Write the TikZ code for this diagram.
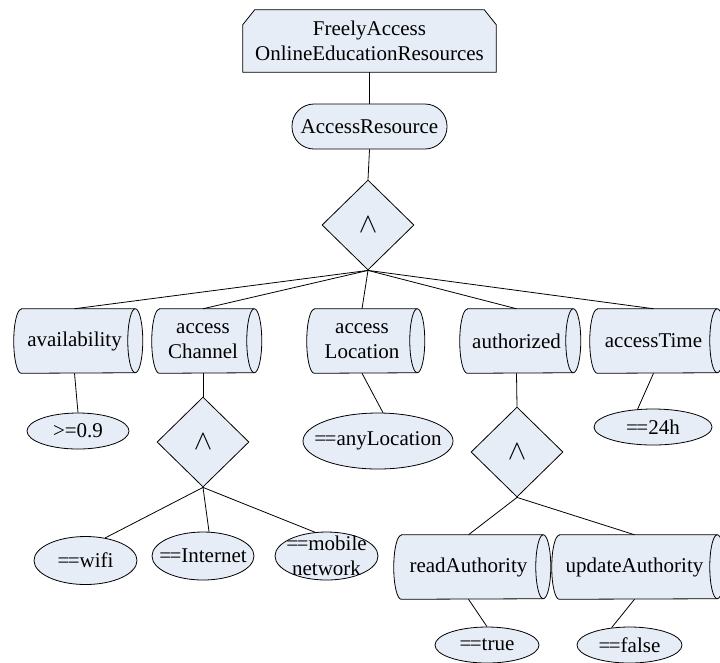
\documentclass[tikz,border=0pt]{standalone}
\usepackage{fontspec}
\setmainfont{Liberation Serif}
\usetikzlibrary{shapes.geometric,backgrounds}
\definecolor{bfill}{RGB}{231,237,247}
\newcommand\fs{\fontsize{15.75pt}{18.75pt}\selectfont}
\newcommand\eqq{=\kern-1.2pt=}
\newcommand\cylo[1]{%
  \draw[line width=0.6pt, fill=bfill] ([xshift=5.625pt]#1.north west) -- (#1.north east)
    arc[start angle=90, end angle=-90, x radius=5.625pt, y radius=24pt]
    -- ([xshift=5.625pt]#1.south west)
    arc[start angle=270, end angle=90, x radius=5.625pt, y radius=24pt] -- cycle;
  \draw[line width=0.6pt] (#1.north east)
    arc[start angle=90, end angle=270, x radius=5.625pt, y radius=24pt];}
\tikzset{
  base/.style={draw=black, fill=bfill, line width=0.6pt, font=\fs, align=center, inner sep=0pt},
  ell/.style={base, ellipse},
  dia/.style={base, diamond, minimum width=69pt, minimum height=67.5pt, font=\fontsize{21pt}{21pt}\selectfont},
  cylbox/.style={inner sep=0pt, align=center, font=\fs, minimum height=48pt},
  lab/.style={font=\fs, align=center, inner sep=0pt},
  conn/.style={line width=0.6pt},
}
\begin{document}
\begin{tikzpicture}[x=0.75pt, y=-0.75pt]
\useasboundingbox (0,0) rectangle (720,662);
\clip (0,0) rectangle (720,662);
% top
\node[inner sep=0pt, align=center, font=\fs, minimum width=189.75pt, minimum height=46.5pt] (top) at (369.5,41) {FreelyAccess\\OnlineEducationResources};
\node[base, rounded corners=16.5pt, minimum width=116.25pt, minimum height=33.75pt] (ar) at (369.5,126.5) {AccessResource};
\node[dia] (d1) at (368,225) {$\wedge$};
% row 1 cylinders
\node[cylbox, minimum width=90.75pt] (avail) at (74.5,341) {availability};
\node[cylbox, minimum width=76.5pt] (chan) at (203,341) {access\\Channel};
\node[cylbox, minimum width=82.5pt] (loc) at (362,341) {access\\Location};
\node[cylbox, minimum width=84.75pt] (auth) at (516.5,341) {authorized};
\node[cylbox, minimum width=95.25pt] (time) at (653.5,341) {accessTime};
% row 2 cylinders
\node[cylbox, minimum width=111.75pt] (read) at (468.5,567) {readAuthority};
\node[cylbox, minimum width=123.75pt] (upd) at (634.5,567) {updateAuthority};
% diamonds
\node[dia] (d2) at (203,442) {$\wedge$};
\node[dia] (d3) at (517,452) {$\wedge$};
% ellipses
\node[ell, minimum width=76.5pt, minimum height=27pt, label={[lab]center:{>=0.9}}] (ge) at (78,431) {};
\node[ell, minimum width=112.5pt, minimum height=42pt, label={[lab]center:{\eqq anyLocation}}] (anyloc) at (378,441) {};
\node[ell, minimum width=88.5pt, minimum height=27pt, label={[lab]center:{\eqq 24h}}] (h24) at (653,427) {};
\node[ell, minimum width=77.25pt, minimum height=36pt, label={[lab]center:{\eqq wifi}}] (wifi) at (85.5,560.5) {};
\node[ell, minimum width=76.5pt, minimum height=36pt, label={[lab]center:{\eqq Internet}}] (inet) at (203,556) {};
\node[ell, minimum width=77.25pt, minimum height=36pt, label={[lab]center:{\eqq mobile\\network}}] (mob) at (326.5,556) {};
\node[ell, minimum width=78pt, minimum height=27pt, label={[lab]center:{\eqq true}}] (tru) at (487,645) {};
\node[ell, minimum width=78.75pt, minimum height=27pt, label={[lab]center:{\eqq false}}] (fls) at (629.5,645) {};
% outlines behind text
\begin{pgfonlayer}{background}
\draw[line width=0.6pt, fill=bfill] ([xshift=9pt]top.north west) -- ([xshift=-9pt]top.north east)
  -- ([yshift=-11.25pt]top.north east) -- (top.south east) -- (top.south west)
  -- ([yshift=-11.25pt]top.north west) -- cycle;
\cylo{avail}\cylo{chan}\cylo{loc}\cylo{auth}\cylo{time}\cylo{read}\cylo{upd}
\end{pgfonlayer}
% connectors
\draw[conn] (top.south) -- (ar.north);
\draw[conn] (ar.south) -- (d1.north);
\foreach \n in {avail,chan,loc,auth,time} \draw[conn] (d1.south) -- (\n.north);
\draw[conn] (avail.south) -- (ge.north);
\draw[conn] (chan.south) -- (d2.north);
\draw[conn] (loc.south) -- (anyloc.80);
\draw[conn] (auth.south) -- (d3.north);
\draw[conn] (time.south) -- (h24.131);
\draw[conn] (d2.south) -- (wifi.49);
\draw[conn] (d2.south) -- (inet.76);
\draw[conn] (d2.south) -- (mob.116);
\draw[conn] (d3.south) -- (read.north);
\draw[conn] (d3.south) -- (upd.north);
\draw[conn] (read.south) -- (tru.north);
\draw[conn] (upd.south) -- (fls.136);
\end{tikzpicture}
\end{document}
